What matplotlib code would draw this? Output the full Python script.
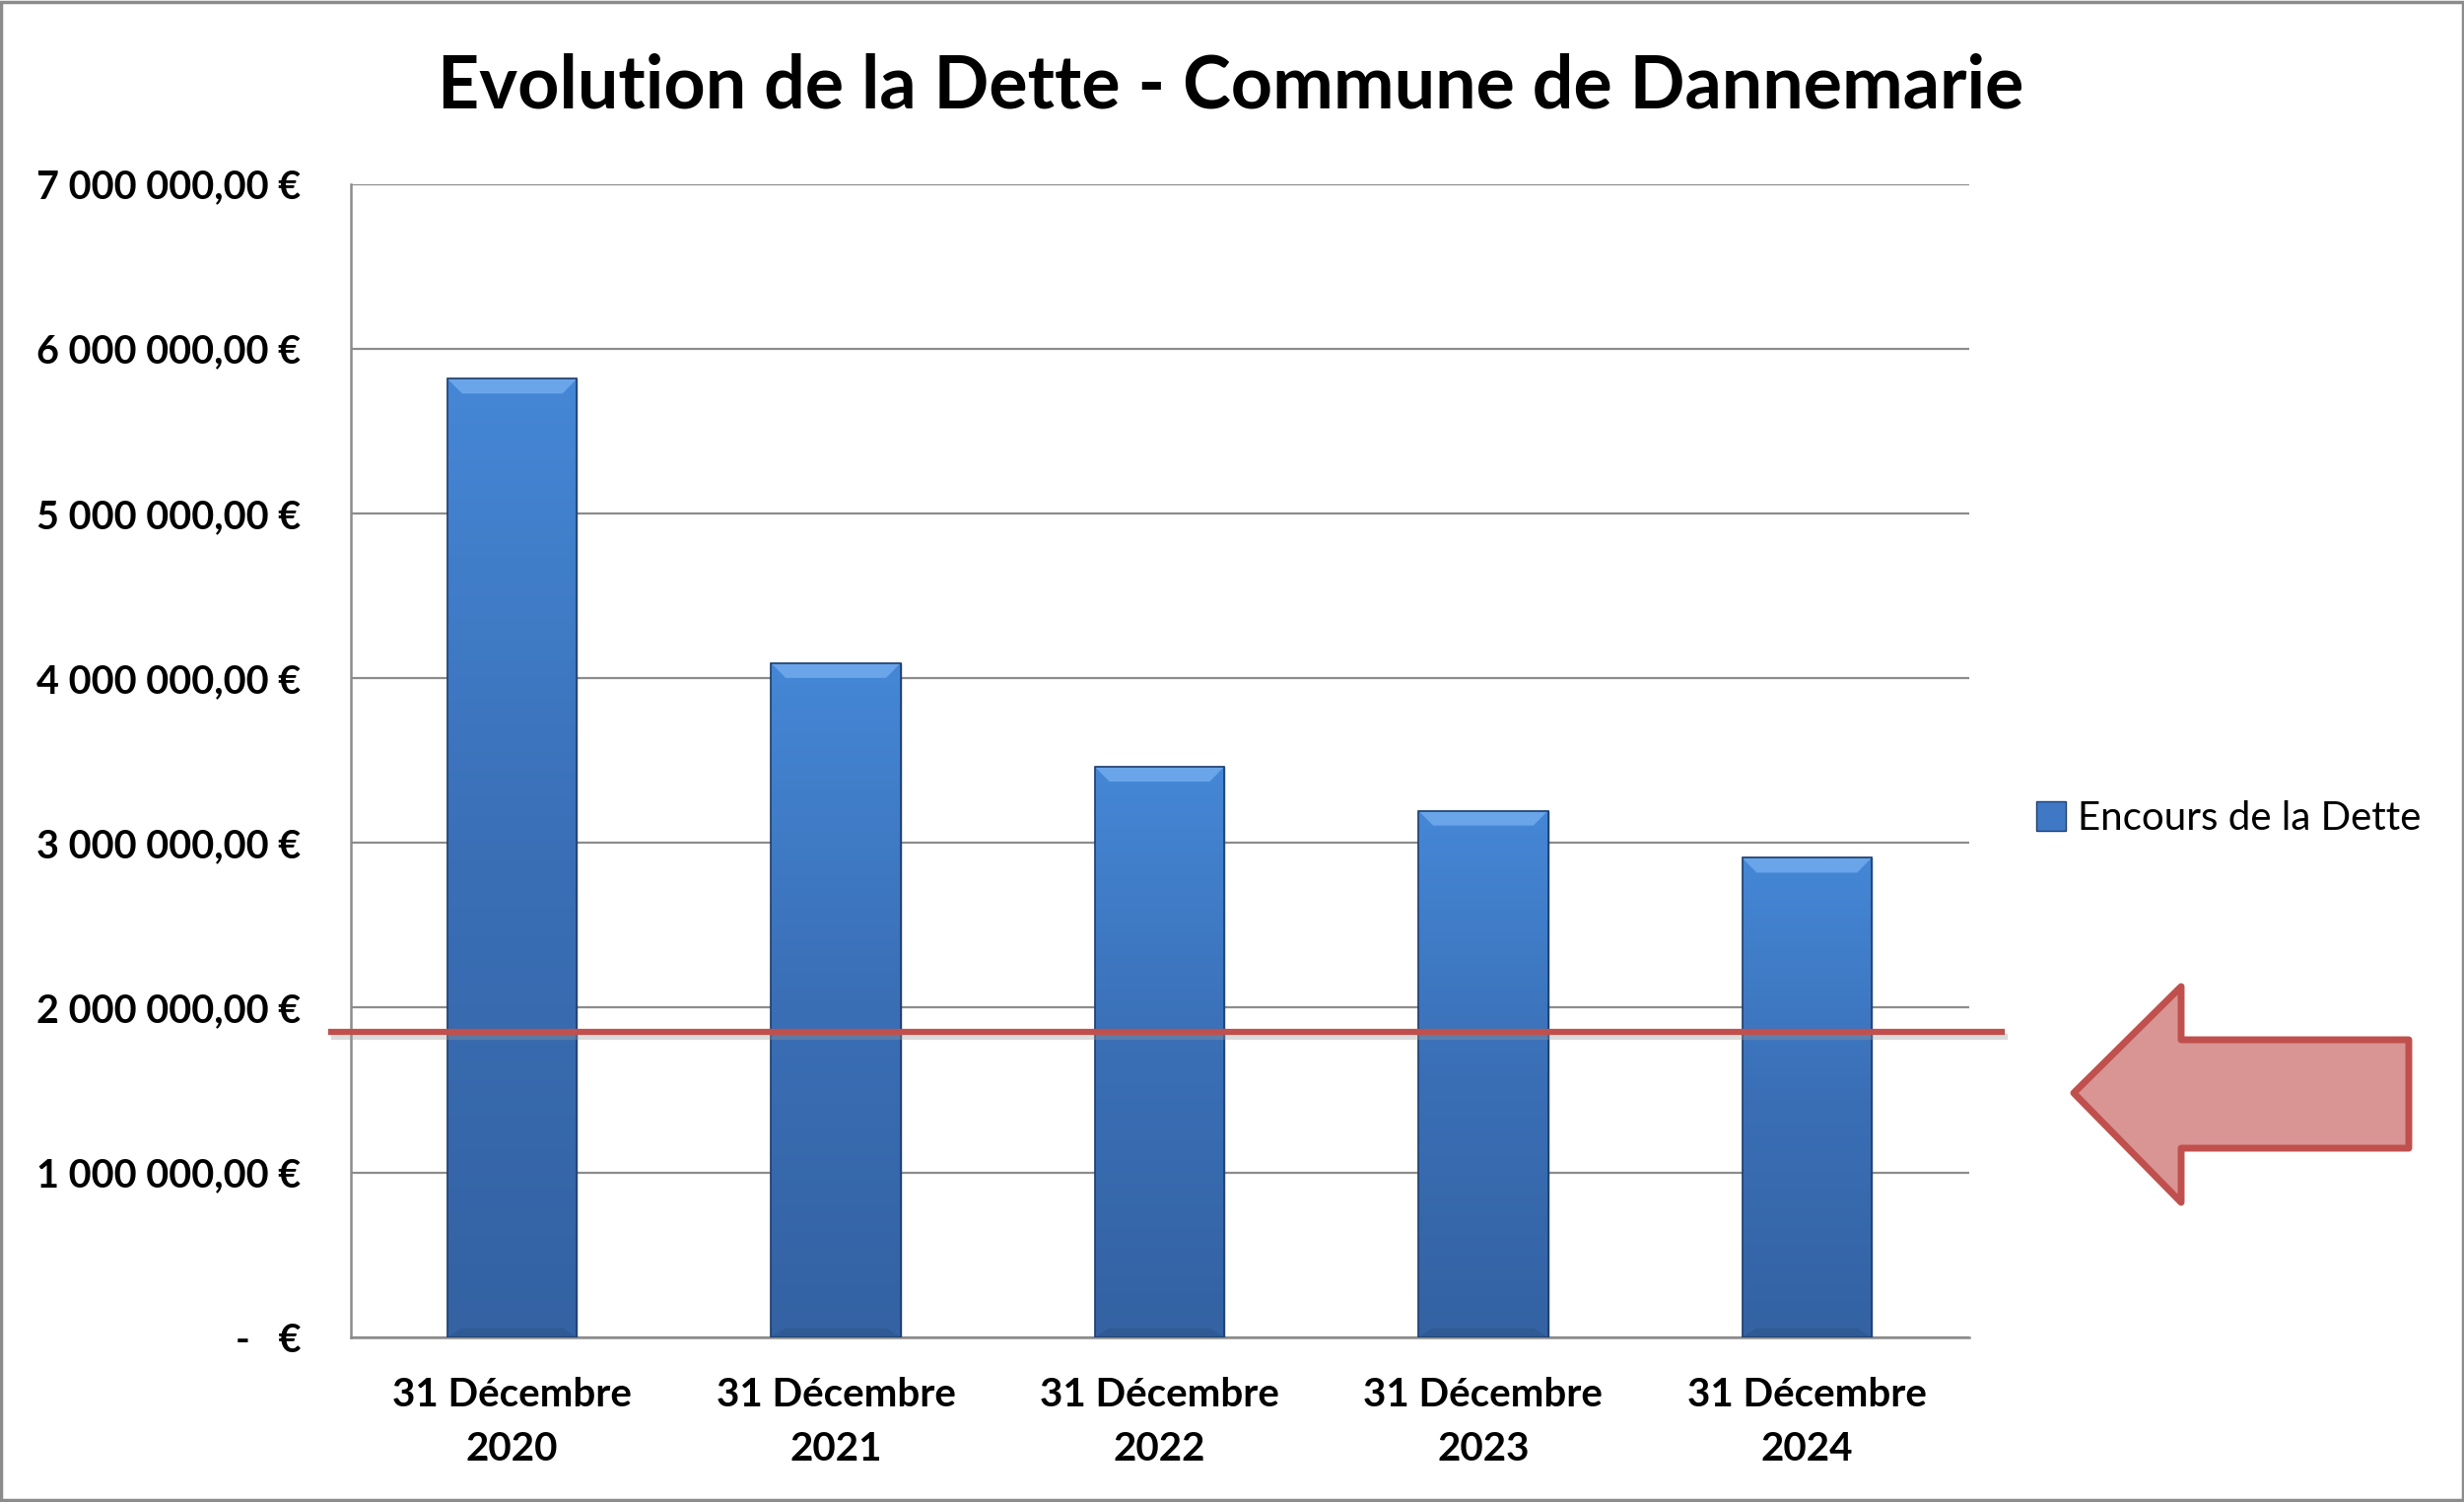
import matplotlib
matplotlib.use("Agg")
import matplotlib.pyplot as plt
import numpy as np
from matplotlib.patches import Rectangle, Polygon
from matplotlib.colors import LinearSegmentedColormap
import matplotlib.patheffects as pe

# ---- data ----
categories = ["31 Décembre\n2020", "31 Décembre\n2021", "31 Décembre\n2022",
              "31 Décembre\n2023", "31 Décembre\n2024"]
encours = [5_817_000, 4_091_000, 3_462_000, 3_195_000, 2_909_000]
threshold = 1_850_000
yticks = [0, 1_000_000, 2_000_000, 3_000_000, 4_000_000, 5_000_000, 6_000_000, 7_000_000]
ytick_labels = ["-   €", "1 000 000,00 €", "2 000 000,00 €", "3 000 000,00 €",
                "4 000 000,00 €", "5 000 000,00 €", "6 000 000,00 €", "7 000 000,00 €"]
title = "Evolution de la Dette - Commune de Dannemarie"
series_name = "Encours de la Dette"

plt.rcParams['font.family'] = ['Lato', 'DejaVu Sans']

fig = plt.figure(figsize=(25, 15.24), dpi=100)
ax = fig.add_axes([0.1422, 0.1098, 0.6568, 0.7678])

x = np.arange(len(categories))
bars = ax.bar(x, encours, width=0.4, color="#3f78c4", edgecolor="#1f3f6e",
              linewidth=1.0, zorder=3, label=series_name)

cmap = LinearSegmentedColormap.from_list("bg", ["#3462a3", "#3a6fb6", "#4587d6"])
grad = np.linspace(0, 1, 256).reshape(-1, 1)
for b in bars:
    x0, w, h = b.get_x(), b.get_width(), b.get_height()
    im = ax.imshow(grad, extent=[x0, x0 + w, 0, h], origin="lower", cmap=cmap,
                   aspect="auto", zorder=3.5)
    im.set_clip_path(b)
    # top bevel (light) and bottom bevel (dark)
    bh = 90_000
    bi = 0.045
    ax.add_patch(Polygon([[x0, h], [x0 + w, h], [x0 + w - bi, h - bh], [x0 + bi, h - bh]],
                         closed=True, facecolor="#6aa5ea", edgecolor="none", zorder=4))
    ax.add_patch(Polygon([[x0, 0], [x0 + w, 0], [x0 + w - bi, bh * 0.6], [x0 + bi, bh * 0.6]],
                         closed=True, facecolor="#2f5a94", edgecolor="none", zorder=4))
    ax.add_patch(Rectangle((x0, 0), w, h, facecolor="none", edgecolor="#1f3f6e",
                           linewidth=1.2, zorder=4.5))

ax.set_xlim(-0.5, len(categories) - 0.5)
ax.set_ylim(0, 7_000_000)
ax.set_yticks(yticks)
ax.set_yticklabels(ytick_labels, fontsize=28.5, fontweight="bold")
ax.set_xticks(x)
ax.set_xticklabels(categories, fontsize=29, fontweight="bold", linespacing=1.6)
ax.tick_params(axis="both", length=0)
ax.tick_params(axis="y", pad=36)
ax.tick_params(axis="x", pad=29)
ax.yaxis.grid(True, color="#8c8c8c", linewidth=1.6, zorder=1)
ax.set_axisbelow(True)
for s in ["top", "right"]:
    ax.spines[s].set_visible(False)
for s in ["left", "bottom"]:
    ax.spines[s].set_color("#8c8c8c")
    ax.spines[s].set_linewidth(1.8)

# threshold line extending slightly beyond axes
ax.plot([-0.012, 1.0204], [threshold, threshold], transform=ax.get_yaxis_transform(),
        color="#c0504d", linewidth=4.5, clip_on=False, zorder=6,
        path_effects=[pe.SimpleLineShadow(offset=(2, -3), shadow_color="#999999", alpha=0.35),
                      pe.Normal()])

# title
fig.text(0.4996, 0.9425, title, ha="center", va="center", fontsize=53, fontweight="bold")

# legend
leg = ax.legend(loc="center left", bbox_to_anchor=(0.8275 - 0.0075, 0.455),
                bbox_transform=fig.transFigure,
                frameon=False, fontsize=29, handlelength=0.75, handleheight=0.75,
                handletextpad=0.3, borderaxespad=0)

# arrow shape (figure pixel coordinates)
W, H = 2500, 1524
pts_px = [(2104, 1109), (2213, 1001), (2213, 1055), (2444, 1055), (2444, 1165),
          (2213, 1165), (2213, 1220)]
arrow = Polygon([(px / W, 1 - py / H) for px, py in pts_px], closed=True,
                transform=fig.transFigure, facecolor="#d99594", edgecolor="#c0504d",
                linewidth=5, joinstyle="round")
fig.patches.append(arrow)

# outer frame
fig.patches.append(Rectangle((0.0006, 0.001), 0.9988, 0.998, transform=fig.transFigure,
                             facecolor="none", edgecolor="#8c8c8c", linewidth=2.5))

fig.savefig("out.png", dpi=100)
